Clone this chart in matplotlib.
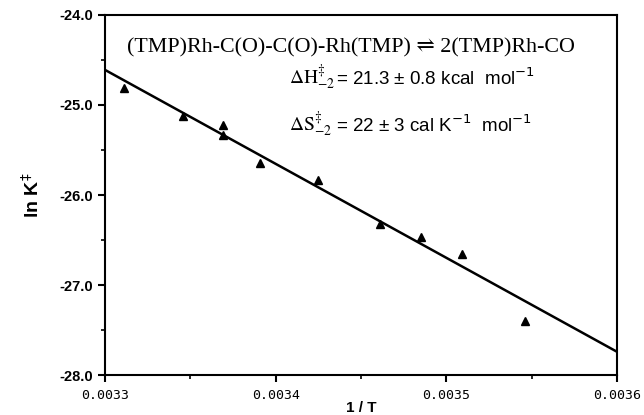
import matplotlib.pyplot as plt
from matplotlib.ticker import MultipleLocator

# data
inv_T = [0.003311, 0.003346, 0.003369, 0.003369, 0.003391, 0.003425,
         0.003461, 0.003485, 0.003509, 0.003546]
ln_K = [-24.81, -25.12, -25.22, -25.33, -25.64, -25.83,
        -26.32, -26.47, -26.66, -27.40]
fit_x = [0.0033, 0.0036]
fit_y = [-24.61, -27.74]
xticks = [0.0033, 0.0034, 0.0035, 0.0036]
yticks = [-28.0, -27.0, -26.0, -25.0, -24.0]

fig = plt.figure(figsize=(6.44, 4.15), dpi=100)
ax = fig.add_axes([0.163, 0.096, 0.795, 0.868])

ax.plot(fit_x, fit_y, color='black', lw=1.8)
ax.plot(inv_T, ln_K, linestyle='none', marker='^', color='black', markersize=6)

ax.set_xlim(0.0033, 0.0036)
ax.set_ylim(-28.0, -24.0)
ax.set_xticks(xticks)
ax.set_xticklabels(['0.0033', '0.0034', '0.0035', '0.0036'],
                   family='DejaVu Sans Mono', fontsize=9.5)
ax.set_yticks(yticks)
ax.set_yticklabels(['-28.0', '-27.0', '-26.0', '-25.0', '-24.0'],
                   family='Liberation Sans', fontweight='bold', fontsize=10.5)
ax.xaxis.set_minor_locator(MultipleLocator(0.00005))
ax.yaxis.set_minor_locator(MultipleLocator(0.5))
ax.tick_params(which='major', direction='out', length=5, width=1.5)
ax.tick_params(which='minor', direction='out', length=3, width=1.2)
ax.tick_params(axis='x', pad=5)
for s in ax.spines.values():
    s.set_linewidth(1.5)

ax.set_ylabel('ln K$^{\\ddagger}$', family='Liberation Sans', fontweight='bold',
              fontsize=14, labelpad=12)
ax.set_xlabel('1 / T', family='Liberation Sans', fontweight='bold', fontsize=11, labelpad=-1)

ax.text(0.043, 0.908, '(TMP)Rh-C(O)-C(O)-Rh(TMP) \u21cc 2(TMP)Rh-CO',
        transform=ax.transAxes, family=['Liberation Serif', 'DejaVu Serif'],
        fontsize=15.8, va='center')
ax.text(0.36, 0.825, '$\\Delta\\mathrm{H}^{\\ddagger}_{-2}$', math_fontfamily='stix',
        transform=ax.transAxes, fontsize=14, va='center')
ax.text(0.452, 0.825, '= 21.3 \u00b1 0.8 kcal  mol$^{-1}$', math_fontfamily='custom',
        transform=ax.transAxes, family='Liberation Sans', fontsize=13.5, va='center')
ax.text(0.36, 0.694, '$\\Delta\\mathrm{S}^{\\ddagger}_{-2}$', math_fontfamily='stix',
        transform=ax.transAxes, fontsize=14, va='center')
ax.text(0.452, 0.694, '= 22 \u00b1 3 cal K$^{-1}$  mol$^{-1}$', math_fontfamily='custom',
        transform=ax.transAxes, family='Liberation Sans', fontsize=13.5, va='center')

fig.savefig('out.png', dpi=100)
